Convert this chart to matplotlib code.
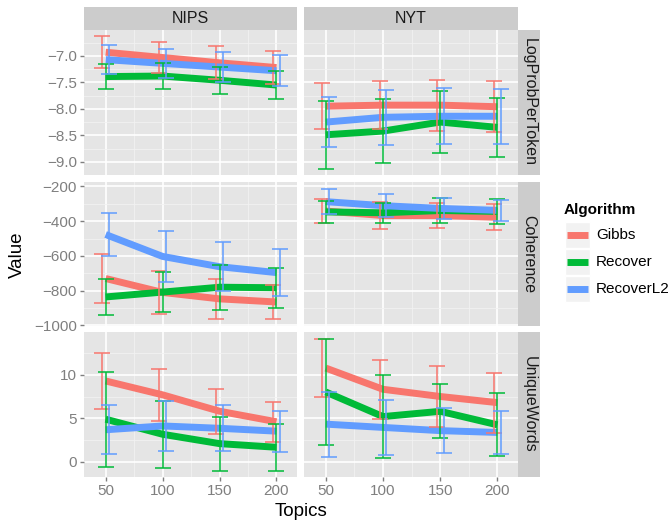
import matplotlib.pyplot as plt
import numpy as np
from matplotlib.patches import Rectangle

plt.rcParams['font.family'] = ['Liberation Sans', 'DejaVu Sans']

# ---- data (means and sd) ----
topics = [50, 100, 150, 200]
algorithms = ['Gibbs', 'Recover', 'RecoverL2']
corpora = ['NIPS', 'NYT']
metrics = ['LogProbPerToken', 'Coherence', 'UniqueWords']

# LogProbPerToken
lp_nips_mean = {'Gibbs': [-6.93, -7.03, -7.13, -7.22],
                'Recover': [-7.39, -7.38, -7.46, -7.55],
                'RecoverL2': [-7.07, -7.14, -7.21, -7.28]}
lp_nips_sd = {'Gibbs': [0.30, 0.30, 0.31, 0.31],
              'Recover': [0.24, 0.25, 0.26, 0.27],
              'RecoverL2': [0.27, 0.28, 0.29, 0.29]}
lp_nyt_mean = {'Gibbs': [-7.95, -7.93, -7.93, -7.96],
               'Recover': [-8.49, -8.42, -8.25, -8.35],
               'RecoverL2': [-8.25, -8.16, -8.14, -8.14]}
lp_nyt_sd = {'Gibbs': [0.43, 0.45, 0.48, 0.48],
             'Recover': [0.64, 0.60, 0.59, 0.56],
             'RecoverL2': [0.47, 0.52, 0.53, 0.52]}

# Coherence
co_nips_mean = {'Gibbs': [-730, -810, -847, -865],
                'Recover': [-836, -808, -780, -783],
                'RecoverL2': [-477, -603, -662, -696]}
co_nips_sd = {'Gibbs': [139, 123, 113, 100],
              'Recover': [104, 114, 130, 116],
              'RecoverL2': [125, 148, 142, 135]}
co_nyt_mean = {'Gibbs': [-342, -368, -368, -378],
               'Recover': [-347, -352, -339, -344],
               'RecoverL2': [-288, -311, -327, -338]}
co_nyt_sd = {'Gibbs': [68, 76, 72, 74],
             'Recover': [62, 57, 74, 70],
             'RecoverL2': [73, 67, 61, 60]}

# UniqueWords
uw_nips_mean = {'Gibbs': [9.31, 7.71, 5.82, 4.60],
                'Recover': [4.90, 3.16, 2.08, 1.66],
                'RecoverL2': [3.68, 4.12, 3.85, 3.52]}
uw_nips_sd = {'Gibbs': [3.23, 2.98, 2.60, 2.33],
              'Recover': [5.46, 3.89, 3.11, 2.69],
              'RecoverL2': [2.83, 2.92, 2.65, 2.37]}
uw_nyt_mean = {'Gibbs': [10.8, 8.35, 7.52, 6.81],
               'Recover': [8.04, 5.20, 5.81, 4.25],
               'RecoverL2': [4.33, 3.95, 3.58, 3.37]}
uw_nyt_sd = {'Gibbs': [3.35, 3.39, 3.48, 3.46],
             'Recover': [6.11, 4.83, 3.11, 3.63],
             'RecoverL2': [3.75, 3.18, 2.58, 2.52]}

panels = [[(lp_nips_mean, lp_nips_sd), (lp_nyt_mean, lp_nyt_sd)],
          [(co_nips_mean, co_nips_sd), (co_nyt_mean, co_nyt_sd)],
          [(uw_nips_mean, uw_nips_sd), (uw_nyt_mean, uw_nyt_sd)]]

# ---- styling ----
colors = {'Gibbs': '#F8766D', 'Recover': '#00BA38', 'RecoverL2': '#619CFF'}
dodge = {'Gibbs': -3, 'Recover': 0, 'RecoverL2': 3}
row_ylim = [(-9.25, -6.51), (-1003, -175), (-1.77, 14.96)]
row_major = [[-9.0, -8.5, -8.0, -7.5, -7.0], [-1000, -800, -600, -400, -200], [0, 5, 10]]
row_minor = [[-9.25, -8.75, -8.25, -7.75, -7.25, -6.75], [-900, -700, -500, -300], [2.5, 7.5, 12.5]]
row_fmt = ['{:.1f}', '{:d}', '{:d}']

W, H = 671, 521
fig = plt.figure(figsize=(W / 100, H / 100), dpi=100)


def px_axes(x0, y0, x1, y1):
    return fig.add_axes([x0 / W, 1 - y1 / H, (x1 - x0) / W, (y1 - y0) / H])


cols_px = [(84, 297), (304, 518)]
rows_px = [(30, 175), (182, 326), (332, 477)]

for r in range(3):
    for c in range(2):
        x0, x1 = cols_px[c]
        y0, y1 = rows_px[r]
        ax = px_axes(x0, y0, x1, y1)
        ax.set_facecolor('#E5E5E5')
        for s in ax.spines.values():
            s.set_visible(False)
        ax.set_xlim(31, 218)
        ax.set_ylim(*row_ylim[r])
        ax.set_xticks(topics)
        ax.set_xticks([75, 125, 175], minor=True)
        ax.set_yticks(row_major[r])
        ax.set_yticks(row_minor[r], minor=True)
        ax.grid(which='major', color='white', lw=1.2)
        ax.grid(which='minor', color='#F2F2F2', lw=0.6)
        ax.set_axisbelow(True)
        ax.tick_params(which='minor', length=0)
        ax.tick_params(which='major', length=3, width=1, color='#7F7F7F',
                       labelcolor='#7F7F7F', labelsize=11, pad=2)
        if c == 0:
            ax.set_yticklabels([row_fmt[r].format(v).replace('-', '\u2212')
                                for v in row_major[r]])
        else:
            ax.tick_params(axis='y', length=0, labelleft=False)
        if r == 2:
            ax.set_xticklabels([str(t) for t in topics])
        else:
            ax.tick_params(axis='x', length=0, labelbottom=False)

        means, sds = panels[r][c]
        for alg in algorithms:
            ax.plot(topics, means[alg], color=colors[alg], lw=5,
                    solid_capstyle='butt', zorder=2)
        for alg in algorithms:
            xs = np.array(topics) + dodge[alg]
            ax.errorbar(xs, means[alg], yerr=sds[alg], fmt='none',
                        ecolor=colors[alg], elinewidth=1.1, capsize=6,
                        capthick=1.1, zorder=3)

        # right strips
        if c == 1:
            sax = px_axes(518, y0, 540, y1)
            sax.set_facecolor('#CCCCCC')
            sax.set_xticks([])
            sax.set_yticks([])
            for s in sax.spines.values():
                s.set_visible(False)
            sax.text(0.5, 0.5, metrics[r], rotation=270, ha='center', va='center',
                     size=11.5, color='#1A1A1A', transform=sax.transAxes)

# top strips
for c in range(2):
    x0, x1 = cols_px[c]
    sax = px_axes(x0, 7, x1, 29.5)
    sax.set_facecolor('#CCCCCC')
    sax.set_xticks([])
    sax.set_yticks([])
    for s in sax.spines.values():
        s.set_visible(False)
    sax.text(0.5, 0.5, corpora[c], ha='center', va='center', size=11.5,
             color='#1A1A1A', transform=sax.transAxes)

fig.text(17 / W, 1 - 255 / H, 'Value', rotation=90, size=13.5, ha='center', va='center')
fig.text(301 / W, 1 - 512 / H, 'Topics', size=13.5, ha='center', va='center')

# legend
lax = px_axes(558, 195, 671, 310)
lax.set_xlim(558, 671)
lax.set_ylim(310, 195)
lax.axis('off')
lax.text(564, 210, 'Algorithm', weight='bold', size=11, va='center', ha='left')
key_centers = [235, 262, 289]
for alg, yc in zip(algorithms, key_centers):
    lax.add_patch(Rectangle((565, yc - 13), 25, 26, facecolor='#F2F2F2',
                            edgecolor='white', lw=1))
    lax.plot([567, 588], [yc, yc], color=colors[alg], lw=5, solid_capstyle='butt')
    lax.text(596, yc, alg, size=11, va='center', ha='left')

fig.savefig('out.png', dpi=100)
